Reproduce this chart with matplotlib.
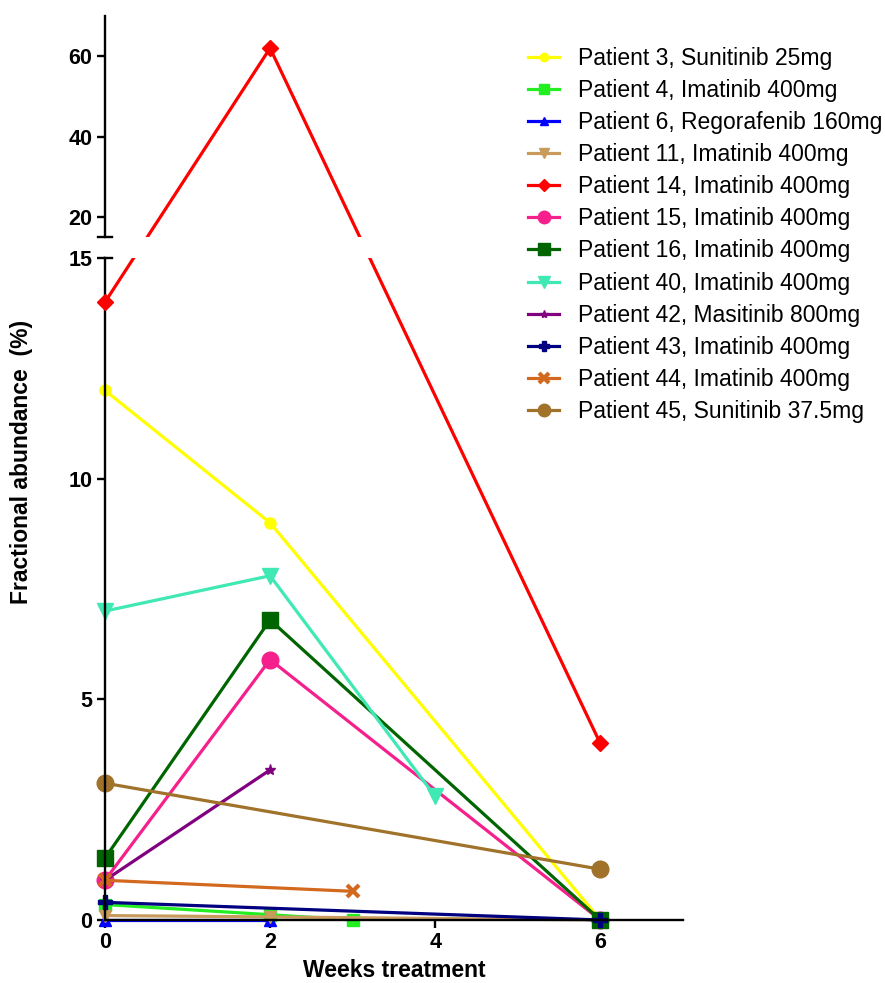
import matplotlib.pyplot as plt
from matplotlib.lines import Line2D

plt.rcParams['font.family'] = ['Liberation Sans', 'DejaVu Sans']

# Data (weeks, fractional abundance %)
labels = ["Patient 3, Sunitinib 25mg", "Patient 4, Imatinib 400mg",
          "Patient 6, Regorafenib 160mg", "Patient 11, Imatinib 400mg",
          "Patient 14, Imatinib 400mg", "Patient 15, Imatinib 400mg",
          "Patient 16, Imatinib 400mg", "Patient 40, Imatinib 400mg",
          "Patient 42, Masitinib 800mg", "Patient 43, Imatinib 400mg",
          "Patient 44, Imatinib 400mg", "Patient 45, Sunitinib 37.5mg"]
weeks = [[0, 2, 6], [0, 2, 3], [0, 2], [0, 2, 6], [0, 2, 6], [0, 2, 6],
         [0, 2, 6], [0, 2, 4], [0, 2], [0, 6], [0, 3], [0, 6]]
values = [[12.0, 9.0, 0.0], [0.35, 0.12, 0.0], [0.0, 0.0], [0.1, 0.07, 0.0],
          [14.0, 62.0, 4.0], [0.9, 5.9, 0.0], [1.4, 6.8, 0.0], [7.0, 7.8, 2.8],
          [0.9, 3.4], [0.4, 0.0], [0.9, 0.65], [3.1, 1.15]]

colors = ['#FFFF00', '#22EE22', '#0000FF', '#C89B5C', '#FF0000', '#F5208C',
          '#006400', '#40E8B4', '#800080', '#000080', '#D2691E', '#A0722A']
markers = ['o', 's', '^', 'v', 'D', 'o', 's', 'v', '*', 'P', 'x', 'o']
msizes = [8, 9, 8, 9, 8, 12, 12, 12, 8, 10, 9, 12]

brk = 15  # axis break
lw = 2.3

fig = plt.figure(figsize=(8.85, 9.83), dpi=100)
ax_lo = fig.add_axes([0.1186, 0.0641, 0.653, 0.6734])
ax_hi = fig.add_axes([0.1186, 0.759, 0.653, 0.2247])

for ax in (ax_lo, ax_hi):
    ax.set_xlim(0, 7)
    ax.spines['top'].set_visible(False)
    ax.spines['right'].set_visible(False)
    for s in ax.spines.values():
        s.set_linewidth(1.7)
    ax.tick_params(width=1.7, length=6, labelsize=15.5, pad=3)

ax_lo.set_ylim(0, brk)
ax_lo.set_yticks([0, 5, 10, 15])
ax_lo.set_xticks([0, 2, 4, 6])
ax_lo.set_yticklabels(['0', '5', '10', '15'], fontweight='bold')
ax_lo.set_xticklabels(['0', '2', '4', '6'], fontweight='bold')
ax_lo.set_xlabel("Weeks treatment", fontsize=16.5, fontweight='bold', labelpad=4)

ax_hi.set_ylim(brk, 70)
ax_hi.set_yticks([20, 40, 60])
ax_hi.set_yticklabels(['20', '40', '60'], fontweight='bold')
ax_hi.spines['bottom'].set_visible(False)
ax_hi.set_xticks([])

to_fig = fig.transFigure.inverted()
handles = []
for i in range(len(labels)):
    mew = 3 if markers[i] == 'x' else 1
    style = dict(color=colors[i], marker=markers[i], ms=msizes[i], mew=mew,
                 mec=colors[i])
    if max(values[i]) <= brk:
        ax_lo.plot(weeks[i], values[i], lw=lw, clip_on=False, **style)
    else:
        # straight segments across the break, drawn in figure space
        pts = [to_fig.transform((ax_hi if v > brk else ax_lo).transData.transform((w, v)))
               for w, v in zip(weeks[i], values[i])]
        fx = [p[0] for p in pts]
        fy = [p[1] for p in pts]
        for ax in (ax_lo, ax_hi):
            ln = Line2D(fx, fy, transform=fig.transFigure, color=colors[i], lw=lw)
            fig.add_artist(ln)
            ln.set_clip_box(ax.bbox)
        lo_w = [w for w, v in zip(weeks[i], values[i]) if v <= brk]
        lo_v = [v for v in values[i] if v <= brk]
        hi_w = [w for w, v in zip(weeks[i], values[i]) if v > brk]
        hi_v = [v for v in values[i] if v > brk]
        ax_lo.plot(lo_w, lo_v, ls='none', clip_on=False, zorder=5, **style)
        ax_hi.plot(hi_w, hi_v, ls='none', clip_on=False, zorder=5, **style)
    handles.append(Line2D([], [], lw=lw, **style))

# break caps
ax_hi.plot([-0.012, 0.012], [0, 0], transform=ax_hi.transAxes, color='black',
           lw=1.7, clip_on=False)
ax_lo.plot([0, 0.012], [1, 1], transform=ax_lo.transAxes, color='black',
           lw=1.7, clip_on=False)

fig.text(0.024, 0.53, "Fractional abundance  (%)", rotation=90, fontsize=16.5,
         fontweight='bold', ha='center', va='center')

fig.legend(handles, labels, loc='upper left', bbox_to_anchor=(0.597, 0.952),
           frameon=False, fontsize=16.5, handlelength=1.35, handletextpad=0.8,
           labelspacing=0.395, borderaxespad=0, borderpad=0, markerscale=0.75)

fig.savefig('out.png', dpi=100)
